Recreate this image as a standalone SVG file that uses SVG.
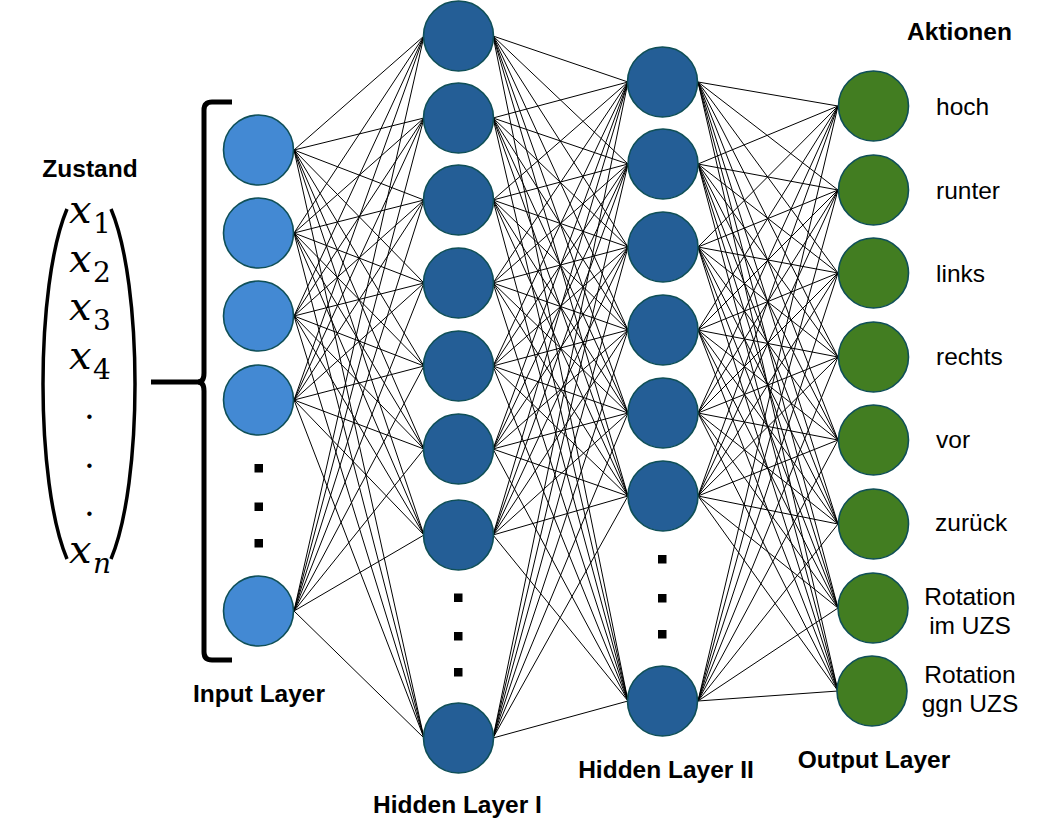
<svg xmlns="http://www.w3.org/2000/svg" width="1041" height="836" viewBox="0 0 1041 836">
<style>
.edge line{stroke:#000;stroke-width:1;fill:none}
.in{fill:#4389d3;stroke:#0f4f57;stroke-width:1.6}
.hid{fill:#245e96;stroke:#0f4f57;stroke-width:1.6}
.out{fill:#427d21;stroke:#0f4f57;stroke-width:1.6}
.lbl{font-family:"Liberation Sans",Arial,sans-serif;font-size:24.5px;font-weight:bold;fill:#000;text-anchor:middle}
.act{font-family:"Liberation Sans",Arial,sans-serif;font-size:24.5px;fill:#000}
.actc{font-family:"Liberation Sans",Arial,sans-serif;font-size:24.5px;fill:#000;text-anchor:middle}
.mx{font-family:"DejaVu Serif",serif;font-style:italic;font-size:40px;fill:#000}
.ms{font-family:"DejaVu Serif",serif;font-size:28px;fill:#000}
.msi{font-family:"DejaVu Serif",serif;font-style:italic;font-size:28px;fill:#000}
.dot{font-family:"DejaVu Serif",serif;font-size:34px;fill:#000;text-anchor:middle}
.br{fill:none;stroke:#000;stroke-width:5}
.par{fill:none;stroke:#000;stroke-width:3.5}
</style>
<rect width="1041" height="836" fill="#fff"/>
<g id="connectors" class="edge">
<line x1="294" y1="150" x2="424" y2="36"/><line x1="294" y1="150" x2="424" y2="118"/><line x1="294" y1="150" x2="424" y2="200"/><line x1="294" y1="150" x2="424" y2="283"/><line x1="294" y1="150" x2="424" y2="366"/><line x1="294" y1="150" x2="424" y2="449"/><line x1="294" y1="150" x2="424" y2="535"/><line x1="294" y1="150" x2="424" y2="738"/>
<line x1="294" y1="233" x2="424" y2="36"/><line x1="294" y1="233" x2="424" y2="118"/><line x1="294" y1="233" x2="424" y2="200"/><line x1="294" y1="233" x2="424" y2="283"/><line x1="294" y1="233" x2="424" y2="366"/><line x1="294" y1="233" x2="424" y2="449"/><line x1="294" y1="233" x2="424" y2="535"/><line x1="294" y1="233" x2="424" y2="738"/>
<line x1="294" y1="316" x2="424" y2="36"/><line x1="294" y1="316" x2="424" y2="118"/><line x1="294" y1="316" x2="424" y2="200"/><line x1="294" y1="316" x2="424" y2="283"/><line x1="294" y1="316" x2="424" y2="366"/><line x1="294" y1="316" x2="424" y2="449"/><line x1="294" y1="316" x2="424" y2="535"/><line x1="294" y1="316" x2="424" y2="738"/>
<line x1="294" y1="400" x2="424" y2="36"/><line x1="294" y1="400" x2="424" y2="118"/><line x1="294" y1="400" x2="424" y2="200"/><line x1="294" y1="400" x2="424" y2="283"/><line x1="294" y1="400" x2="424" y2="366"/><line x1="294" y1="400" x2="424" y2="449"/><line x1="294" y1="400" x2="424" y2="535"/><line x1="294" y1="400" x2="424" y2="738"/>
<line x1="294" y1="611" x2="424" y2="36"/><line x1="294" y1="611" x2="424" y2="118"/><line x1="294" y1="611" x2="424" y2="200"/><line x1="294" y1="611" x2="424" y2="283"/><line x1="294" y1="611" x2="424" y2="366"/><line x1="294" y1="611" x2="424" y2="449"/><line x1="294" y1="611" x2="424" y2="535"/><line x1="294" y1="611" x2="424" y2="738"/>

<line x1="493" y1="36" x2="628" y2="82"/><line x1="493" y1="36" x2="628" y2="164"/><line x1="493" y1="36" x2="628" y2="247"/><line x1="493" y1="36" x2="628" y2="330"/><line x1="493" y1="36" x2="628" y2="413"/><line x1="493" y1="36" x2="628" y2="496"/><line x1="493" y1="36" x2="628" y2="701"/>
<line x1="493" y1="118" x2="628" y2="82"/><line x1="493" y1="118" x2="628" y2="164"/><line x1="493" y1="118" x2="628" y2="247"/><line x1="493" y1="118" x2="628" y2="330"/><line x1="493" y1="118" x2="628" y2="413"/><line x1="493" y1="118" x2="628" y2="496"/><line x1="493" y1="118" x2="628" y2="701"/>
<line x1="493" y1="200" x2="628" y2="82"/><line x1="493" y1="200" x2="628" y2="164"/><line x1="493" y1="200" x2="628" y2="247"/><line x1="493" y1="200" x2="628" y2="330"/><line x1="493" y1="200" x2="628" y2="413"/><line x1="493" y1="200" x2="628" y2="496"/><line x1="493" y1="200" x2="628" y2="701"/>
<line x1="493" y1="283" x2="628" y2="82"/><line x1="493" y1="283" x2="628" y2="164"/><line x1="493" y1="283" x2="628" y2="247"/><line x1="493" y1="283" x2="628" y2="330"/><line x1="493" y1="283" x2="628" y2="413"/><line x1="493" y1="283" x2="628" y2="496"/><line x1="493" y1="283" x2="628" y2="701"/>
<line x1="493" y1="366" x2="628" y2="82"/><line x1="493" y1="366" x2="628" y2="164"/><line x1="493" y1="366" x2="628" y2="247"/><line x1="493" y1="366" x2="628" y2="330"/><line x1="493" y1="366" x2="628" y2="413"/><line x1="493" y1="366" x2="628" y2="496"/><line x1="493" y1="366" x2="628" y2="701"/>
<line x1="493" y1="449" x2="628" y2="82"/><line x1="493" y1="449" x2="628" y2="164"/><line x1="493" y1="449" x2="628" y2="247"/><line x1="493" y1="449" x2="628" y2="330"/><line x1="493" y1="449" x2="628" y2="413"/><line x1="493" y1="449" x2="628" y2="496"/><line x1="493" y1="449" x2="628" y2="701"/>
<line x1="493" y1="535" x2="628" y2="82"/><line x1="493" y1="535" x2="628" y2="164"/><line x1="493" y1="535" x2="628" y2="247"/><line x1="493" y1="535" x2="628" y2="330"/><line x1="493" y1="535" x2="628" y2="413"/><line x1="493" y1="535" x2="628" y2="496"/><line x1="493" y1="535" x2="628" y2="701"/>
<line x1="493" y1="738" x2="628" y2="82"/><line x1="493" y1="738" x2="628" y2="164"/><line x1="493" y1="738" x2="628" y2="247"/><line x1="493" y1="738" x2="628" y2="330"/><line x1="493" y1="738" x2="628" y2="413"/><line x1="493" y1="738" x2="628" y2="496"/><line x1="493" y1="738" x2="628" y2="701"/>

<line x1="698" y1="82" x2="838" y2="106"/><line x1="698" y1="82" x2="838" y2="190"/><line x1="698" y1="82" x2="838" y2="273"/><line x1="698" y1="82" x2="838" y2="357"/><line x1="698" y1="82" x2="838" y2="440"/><line x1="698" y1="82" x2="838" y2="524"/><line x1="698" y1="82" x2="838" y2="608"/><line x1="698" y1="82" x2="838" y2="691"/>
<line x1="698" y1="164" x2="838" y2="106"/><line x1="698" y1="164" x2="838" y2="190"/><line x1="698" y1="164" x2="838" y2="273"/><line x1="698" y1="164" x2="838" y2="357"/><line x1="698" y1="164" x2="838" y2="440"/><line x1="698" y1="164" x2="838" y2="524"/><line x1="698" y1="164" x2="838" y2="608"/><line x1="698" y1="164" x2="838" y2="691"/>
<line x1="698" y1="247" x2="838" y2="106"/><line x1="698" y1="247" x2="838" y2="190"/><line x1="698" y1="247" x2="838" y2="273"/><line x1="698" y1="247" x2="838" y2="357"/><line x1="698" y1="247" x2="838" y2="440"/><line x1="698" y1="247" x2="838" y2="524"/><line x1="698" y1="247" x2="838" y2="608"/><line x1="698" y1="247" x2="838" y2="691"/>
<line x1="698" y1="330" x2="838" y2="106"/><line x1="698" y1="330" x2="838" y2="190"/><line x1="698" y1="330" x2="838" y2="273"/><line x1="698" y1="330" x2="838" y2="357"/><line x1="698" y1="330" x2="838" y2="440"/><line x1="698" y1="330" x2="838" y2="524"/><line x1="698" y1="330" x2="838" y2="608"/><line x1="698" y1="330" x2="838" y2="691"/>
<line x1="698" y1="413" x2="838" y2="106"/><line x1="698" y1="413" x2="838" y2="190"/><line x1="698" y1="413" x2="838" y2="273"/><line x1="698" y1="413" x2="838" y2="357"/><line x1="698" y1="413" x2="838" y2="440"/><line x1="698" y1="413" x2="838" y2="524"/><line x1="698" y1="413" x2="838" y2="608"/><line x1="698" y1="413" x2="838" y2="691"/>
<line x1="698" y1="496" x2="838" y2="106"/><line x1="698" y1="496" x2="838" y2="190"/><line x1="698" y1="496" x2="838" y2="273"/><line x1="698" y1="496" x2="838" y2="357"/><line x1="698" y1="496" x2="838" y2="440"/><line x1="698" y1="496" x2="838" y2="524"/><line x1="698" y1="496" x2="838" y2="608"/><line x1="698" y1="496" x2="838" y2="691"/>
<line x1="698" y1="701" x2="838" y2="106"/><line x1="698" y1="701" x2="838" y2="190"/><line x1="698" y1="701" x2="838" y2="273"/><line x1="698" y1="701" x2="838" y2="357"/><line x1="698" y1="701" x2="838" y2="440"/><line x1="698" y1="701" x2="838" y2="524"/><line x1="698" y1="701" x2="838" y2="608"/><line x1="698" y1="701" x2="838" y2="691"/>
</g>

<g id="state-vector">
<text class="lbl" x="90" y="177">Zustand</text>
<path class="par" d="M67,209 C35,285 35,483 67,559"/>
<path class="par" d="M111,209 C143,285 143,483 111,559"/>
<text class="mx" x="69" y="223">x</text><text class="ms" x="93" y="233">1</text>
<text class="mx" x="69" y="272">x</text><text class="ms" x="93" y="282">2</text>
<text class="mx" x="69" y="320">x</text><text class="ms" x="93" y="330">3</text>
<text class="mx" x="69" y="369">x</text><text class="ms" x="93" y="379">4</text>
<text class="dot" x="89.5" y="419">.</text>
<text class="dot" x="89.5" y="468">.</text>
<text class="dot" x="89.5" y="516">.</text>
<text class="mx" x="69" y="563">x</text><text class="msi" x="93" y="573">n</text>
</g>

<g id="bracket">
<path class="br" d="M232,102 H212 Q204,102 204,110 V373 Q204,382 198,382 Q204,382 204,391 V652 Q204,660 212,660 H232"/>
<path class="br" d="M151,382 H200"/>
</g>

<g id="input-layer">
<circle id="in1" class="in" cx="258.5" cy="150" r="35"/>
<circle id="in2" class="in" cx="258.5" cy="233" r="35"/>
<circle id="in3" class="in" cx="258.5" cy="316" r="35"/>
<circle id="in4" class="in" cx="258.5" cy="400" r="35"/>
<rect x="254.5" y="464" width="8.5" height="8.5"/>
<rect x="254.5" y="502.5" width="8.5" height="8.5"/>
<rect x="254.5" y="539" width="8.5" height="8.5"/>
<circle id="inN" class="in" cx="258.5" cy="611" r="35"/>
<text class="lbl" x="259" y="702">Input Layer</text>
</g>

<g id="hidden-layer-1">
<circle id="h1n1" class="hid" cx="458.5" cy="36" r="35"/>
<circle id="h1n2" class="hid" cx="458.5" cy="118" r="35"/>
<circle id="h1n3" class="hid" cx="458.5" cy="200" r="35"/>
<circle id="h1n4" class="hid" cx="458.5" cy="283" r="35"/>
<circle id="h1n5" class="hid" cx="458.5" cy="366" r="35"/>
<circle id="h1n6" class="hid" cx="458.5" cy="449" r="35"/>
<circle id="h1n7" class="hid" cx="458.5" cy="535" r="35"/>
<rect x="454" y="593.5" width="8.5" height="8.5"/>
<rect x="454" y="632" width="8.5" height="8.5"/>
<rect x="454" y="668" width="8.5" height="8.5"/>
<circle id="h1nN" class="hid" cx="458.5" cy="738" r="35"/>
<text class="lbl" x="457.5" y="813">Hidden Layer I</text>
</g>

<g id="hidden-layer-2">
<circle id="h2n1" class="hid" cx="662.5" cy="82" r="35"/>
<circle id="h2n2" class="hid" cx="663" cy="164" r="35"/>
<circle id="h2n3" class="hid" cx="663" cy="247" r="35"/>
<circle id="h2n4" class="hid" cx="663" cy="330" r="35"/>
<circle id="h2n5" class="hid" cx="663" cy="413" r="35"/>
<circle id="h2n6" class="hid" cx="663" cy="496" r="35"/>
<rect x="658" y="555" width="8.5" height="8.5"/>
<rect x="658" y="594" width="8.5" height="8.5"/>
<rect x="658" y="630" width="8.5" height="8.5"/>
<circle id="h2nN" class="hid" cx="662.5" cy="701" r="35"/>
<text class="lbl" x="666" y="778">Hidden Layer II</text>
</g>

<g id="output-layer">
<text class="lbl" x="959.5" y="40">Aktionen</text>
<g id="out-hoch"><circle class="out" cx="873.5" cy="106" r="35"/><text class="act" x="936" y="115">hoch</text></g>
<g id="out-runter"><circle class="out" cx="873.5" cy="190" r="35"/><text class="act" x="936" y="199">runter</text></g>
<g id="out-links"><circle class="out" cx="873.5" cy="273" r="35"/><text class="act" x="936" y="282">links</text></g>
<g id="out-rechts"><circle class="out" cx="873.5" cy="357" r="35"/><text class="act" x="936" y="365">rechts</text></g>
<g id="out-vor"><circle class="out" cx="873.5" cy="440" r="35"/><text class="act" x="936" y="448">vor</text></g>
<g id="out-zurueck"><circle class="out" cx="873.5" cy="524" r="35"/><text class="act" x="935" y="531">zurück</text></g>
<g id="out-rot-im"><circle class="out" cx="873" cy="608" r="35"/><text class="actc" x="970" y="605">Rotation</text><text class="actc" x="970" y="634">im UZS</text></g>
<g id="out-rot-ggn"><circle class="out" cx="872" cy="691" r="35"/><text class="actc" x="970" y="683">Rotation</text><text class="actc" x="970" y="712">ggn UZS</text></g>
<text class="lbl" x="874" y="768">Output Layer</text>
</g>
</svg>
